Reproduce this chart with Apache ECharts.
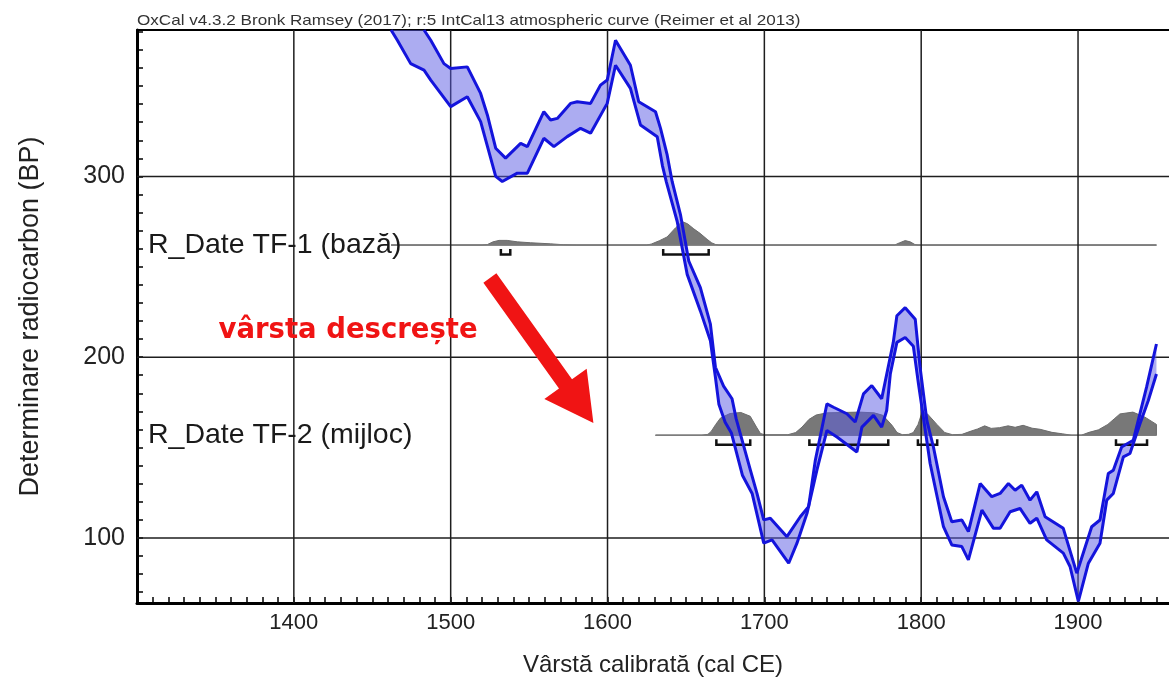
<!DOCTYPE html>
<html>
<head>
<meta charset="utf-8">
<script src="https://cdn.jsdelivr.net/npm/echarts@6/dist/echarts.min.js"></script>
<style>
  html, body { margin: 0; padding: 0; background: #fff; }
  #chart { width: 1169px; height: 688px; }
</style>
</head>
<body>
<div id="chart"></div>
<script>
// axis labels
const xLabels = [1400, 1500, 1600, 1700, 1800, 1900];
const yLabels = [100, 200, 300];
const xMin = 1300, xMax = 1958, yMin = 64, yMax = 381;

// IntCal13 band: upper edge (cal CE / BP)
const upperYears = [1483, 1487.3, 1495.7, 1500, 1510.6, 1519.1, 1523.4, 1528.7, 1535, 1544.6, 1548.9, 1559.4, 1563.7, 1568, 1576.4, 1580.7, 1589.2, 1595.5, 1599.8, 1605.1, 1614.6, 1619.9, 1630.6, 1633.8, 1638, 1641.2, 1646.5, 1651.8, 1659.2, 1665.6, 1668.8, 1674, 1679.4, 1682, 1691.1, 1695.3, 1699.6, 1703.8, 1714.4, 1722.9, 1728.2, 1732.5, 1739.9, 1744.1, 1752.6, 1757.9, 1763.2, 1768.5, 1774.8, 1782.2, 1784.5, 1789.8, 1796.2, 1799.2, 1803.6, 1807.8, 1814.2, 1819.5, 1825.9, 1830.1, 1837.6, 1845, 1850.3, 1855.6, 1859.9, 1864.1, 1869.4, 1873.7, 1879, 1890.6, 1899.2, 1908.7, 1914, 1919.3, 1922.5, 1927.8, 1935.2, 1943.7, 1950];
const upperBP = [381, 375.3, 362.4, 359.7, 360.6, 345.9, 334, 315.6, 310.1, 318.3, 316.5, 335.8, 331.2, 332.1, 340.4, 341.3, 340.4, 350.5, 353.3, 375.3, 361.5, 341.3, 335.8, 326.6, 312, 297.2, 278.9, 253.2, 238.5, 218.3, 194.4, 184, 177, 166, 137.5, 124.6, 110, 110.9, 100.7, 111.7, 117.3, 143, 174.2, 172.3, 168.7, 164.1, 179.7, 184.3, 177, 208.2, 222.9, 227.4, 221, 195, 165, 150.3, 122.8, 109, 109.9, 103.5, 130.1, 122.8, 124.6, 130.1, 126.4, 129.2, 120.9, 125.5, 111.7, 105.3, 80.5, 106.2, 109.9, 135.6, 137.5, 150.3, 154, 183.4, 207.3];

// IntCal13 band: lower edge
const lowerYears = [1462, 1466, 1474.5, 1483, 1487.3, 1500, 1510.6, 1519.1, 1528.7, 1532.9, 1542.5, 1548.9, 1559.4, 1565.8, 1574.3, 1582.8, 1589.2, 1599.8, 1605.1, 1614.6, 1621, 1631.7, 1635, 1637.5, 1644.4, 1650.8, 1659.2, 1665.6, 1668.8, 1671, 1675, 1679, 1686, 1692.2, 1699.6, 1704.9, 1715.5, 1720.8, 1727.2, 1733.5, 1739.9, 1746.3, 1759, 1762.2, 1769.6, 1774.8, 1778, 1780.3, 1784.5, 1789.8, 1795, 1798.3, 1805.7, 1814.2, 1819.5, 1825.9, 1830.1, 1838.7, 1846.1, 1850.3, 1856.7, 1863, 1869.4, 1873.7, 1880, 1890.6, 1894.9, 1900.2, 1906.6, 1914, 1918.3, 1922.5, 1928.9, 1933.1, 1939.5, 1944.8, 1950];
const lowerBP = [381, 375.3, 362.4, 358.8, 353.3, 338.6, 344.1, 330.3, 300, 297.2, 301.8, 301.8, 321.1, 316.5, 322, 326.6, 323.9, 340.4, 361.5, 348.7, 328.5, 322, 306, 297, 275.2, 245.8, 225.6, 209.1, 188.9, 174, 164, 158, 134.7, 124.6, 97.1, 98.9, 86, 97.1, 113.6, 137.5, 159.5, 155.8, 147.5, 161.3, 167.8, 161.3, 170.5, 190.7, 208.2, 210.9, 206, 185, 141.2, 106.2, 96.1, 95.2, 87.9, 115.4, 105.3, 105.3, 114.5, 116.3, 108.1, 110.9, 98.9, 91.6, 84.2, 64.9, 86, 97.1, 120.9, 124.6, 144.8, 146.7, 163.2, 176, 190.7];

// R_Date TF-1 (bază): probability profile (height above its baseline) and ranges
const tf1Base = 262;
const tf1Years = [1462, 1520, 1523.4, 1527, 1530.8, 1536, 1542.5, 1551, 1563.7, 1572, 1580, 1625, 1628, 1633, 1638, 1643.3, 1647.6, 1651, 1655, 1659, 1663.5, 1666.5, 1669, 1671, 1783, 1786, 1789.8, 1793, 1796, 1798, 1950];
const tf1Prob = [0, 0, 0.3, 1.8, 2.6, 2.6, 1.8, 1.3, 0.7, 0.2, 0, 0, 0.6, 2.4, 4.5, 9.5, 13, 11.8, 9, 6.5, 3.2, 1.2, 0.3, 0, 0, 1.2, 2.5, 1.8, 0.3, 0, 0];
const tf1Ranges = [[1532, 1538], [1635.5, 1664.5]];

// R_Date TF-2 (mijloc)
const tf2Base = 156.8;
const tf2Years = [1630.6, 1660, 1664, 1666, 1669, 1672, 1678, 1685, 1691, 1695, 1697.5, 1700, 1715, 1720, 1724, 1728.5, 1733, 1740, 1760.7, 1770, 1775.6, 1781.4, 1784.6, 1788, 1792, 1795, 1798, 1800.6, 1804, 1810, 1815, 1820, 1826, 1831.8, 1836, 1840.5, 1844.6, 1850, 1855.4, 1859.9, 1865, 1870.7, 1875.8, 1883.4, 1890, 1896, 1902, 1907, 1913, 1919, 1923, 1926.7, 1935, 1942.7, 1950];
const tf2Prob = [0, 0, 0.5, 2, 6, 9.5, 12, 12.6, 10.5, 4.5, 1, 0.3, 0.3, 1.5, 4.5, 8.8, 11.2, 12.4, 12.8, 12.4, 11, 5.5, 1.5, 0.3, 0.5, 1.5, 6, 12.8, 11.8, 6, 1.5, 0.3, 0.5, 2.3, 3.5, 5.2, 3.8, 4.2, 5.2, 4.4, 5.5, 3.9, 3.3, 1.6, 0.8, 0, 0, 1.6, 3, 6, 9, 11.8, 12.8, 10, 6];
const tf2Ranges = [[1669.4, 1691], [1728.7, 1779], [1797.9, 1810.2], [1924.2, 1944]];

const xTicks = [];
for (let v = xMin + 10; v <= 1950; v += 10) xTicks.push(v);
const yTicks = [];
for (let v = 70; v <= 380; v += 10) yTicks.push(v);

const chart = echarts.init(document.getElementById('chart'));

// grey probability profile drawn over its own baseline
function profileItem(years, prob, base) {
  return function (params, api) {
    const pts = years.map((y, i) => api.coord([y, base + prob[i]]));
    const a = api.coord([years[0], base]);
    const b = api.coord([years[years.length - 1], base]);
    return {
      type: 'group',
      children: [
        { type: 'polygon', shape: { points: [a].concat(pts, [b]) },
          style: { fill: '#787878', stroke: '#6c6c6c', lineWidth: 1 } },
        { type: 'line', shape: { x1: a[0], y1: a[1], x2: b[0], y2: b[1] },
          style: { stroke: '#7d7d7d', lineWidth: 1.5 } }
      ]
    };
  };
}

function bracketItem(ranges, base) {
  return function (params, api) {
    return {
      type: 'group',
      children: ranges.map(r => ({
        type: 'polyline',
        shape: { points: [
          api.coord([r[0], base - 2.2]), api.coord([r[0], base - 5.2]),
          api.coord([r[1], base - 5.2]), api.coord([r[1], base - 2.2])
        ] },
        style: { stroke: '#111', lineWidth: 2.5, fill: null }
      }))
    };
  };
}

const option = {
  animation: false,
  backgroundColor: '#fff',
  grid: { left: 137, right: 0, top: 30, bottom: 85 },
  xAxis: [
    {
      type: 'value', min: xMin, max: xMax, position: 'bottom',
      name: 'Vârstă calibrată (cal CE)', nameLocation: 'middle', nameGap: 50,
      nameTextStyle: { fontSize: 24, color: '#222', fontFamily: 'Liberation Sans' },
      axisLine: { show: true, lineStyle: { color: '#000', width: 3 } },
      axisTick: { show: true, inside: true, length: 6, customValues: xTicks, lineStyle: { color: '#000', width: 1.5 } },
      axisLabel: { customValues: xLabels, formatter: v => String(v), fontSize: 22, color: '#222', margin: 9, fontFamily: 'Liberation Sans' },
      splitLine: { show: false }
    },
    {
      type: 'value', min: xMin, max: xMax, position: 'top',
      axisLine: { show: true, lineStyle: { color: '#000', width: 2 } },
      axisTick: { show: false }, axisLabel: { show: false }, splitLine: { show: false }
    }
  ],
  yAxis: {
    type: 'value', min: yMin, max: yMax,
    name: 'Determinare radiocarbon (BP)', nameLocation: 'middle', nameGap: 93,
    nameTextStyle: { fontSize: 27, color: '#222', fontFamily: 'Liberation Sans', padding: [0, 0, 0, 0] },
    axisLine: { show: true, lineStyle: { color: '#000', width: 3 } },
    axisTick: { show: true, inside: true, length: 6, customValues: yTicks, lineStyle: { color: '#000', width: 1.5 } },
    axisLabel: { customValues: yLabels, formatter: v => String(v), fontSize: 25, color: '#222', margin: 12, fontFamily: 'Liberation Sans' },
    splitLine: { show: false }
  },
  series: [
    {
      type: 'custom', name: 'TF-1', z: 1, silent: true, data: [[xMin, yMin]],
      renderItem: profileItem(tf1Years, tf1Prob, tf1Base)
    },
    {
      type: 'custom', name: 'TF-2', z: 1, silent: true, data: [[xMin, yMin]],
      renderItem: profileItem(tf2Years, tf2Prob, tf2Base)
    },
    {
      type: 'custom', name: 'grid', z: 2, silent: true, data: [[xMin, yMin]],
      renderItem: function (params, api) {
        const lines = [];
        xLabels.forEach(v => {
          const a = api.coord([v, yMin]), b = api.coord([v, yMax]);
          lines.push({ type: 'line', shape: { x1: a[0], y1: a[1], x2: b[0], y2: b[1] }, style: { stroke: '#1e1e1e', lineWidth: 1.5 } });
        });
        yLabels.forEach(v => {
          const a = api.coord([xMin, v]), b = api.coord([xMax, v]);
          lines.push({ type: 'line', shape: { x1: a[0], y1: a[1], x2: b[0], y2: b[1] }, style: { stroke: '#1e1e1e', lineWidth: 1.5 } });
        });
        return { type: 'group', children: lines };
      }
    },
    {
      type: 'custom', name: 'band', z: 3, silent: true, data: [[xMin, yMin]],
      renderItem: function (params, api) {
        const up = upperYears.map((y, i) => api.coord([y, upperBP[i]]));
        const lo = lowerYears.map((y, i) => api.coord([y, lowerBP[i]])).reverse();
        return { type: 'polygon', shape: { points: up.concat(lo) }, style: { fill: 'rgba(90,90,228,0.5)' } };
      }
    },
    {
      type: 'line', name: 'upper', z: 4, showSymbol: false, silent: true,
      data: upperYears.map((y, i) => [y, upperBP[i]]),
      lineStyle: { color: '#1414dc', width: 3 }
    },
    {
      type: 'line', name: 'lower', z: 4, showSymbol: false, silent: true,
      data: lowerYears.map((y, i) => [y, lowerBP[i]]),
      lineStyle: { color: '#1414dc', width: 3 }
    },
    {
      type: 'custom', name: 'TF-1 ranges', z: 4, silent: true, data: [[xMin, yMin]],
      renderItem: bracketItem(tf1Ranges, tf1Base)
    },
    {
      type: 'custom', name: 'TF-2 ranges', z: 4, silent: true, data: [[xMin, yMin]],
      renderItem: bracketItem(tf2Ranges, tf2Base)
    }
  ]
};
chart.setOption(option);

// labels and arrow placed in data space
const px = (x, y) => chart.convertToPixel({ gridIndex: 0 }, [x, y]);
const lab1 = px(1307, tf1Base), lab2 = px(1307, tf2Base);
const note = px(1352, 214.5);
const tail = px(1525, 243.8), tip = px(1591, 163.6);
const dx = tip[0] - tail[0], dy = tip[1] - tail[1];
const len = Math.sqrt(dx * dx + dy * dy);
const ux = dx / len, uy = dy / len, nx = -uy, ny = ux;
const headLen = 48, headHalf = 26, shaftHalf = 8;
const hb = [tip[0] - ux * headLen, tip[1] - uy * headLen];
const arrowPts = [
  [tail[0] + nx * shaftHalf, tail[1] + ny * shaftHalf],
  [hb[0] + nx * shaftHalf, hb[1] + ny * shaftHalf],
  [hb[0] + nx * headHalf, hb[1] + ny * headHalf],
  tip,
  [hb[0] - nx * headHalf, hb[1] - ny * headHalf],
  [hb[0] - nx * shaftHalf, hb[1] - ny * shaftHalf],
  [tail[0] - nx * shaftHalf, tail[1] - ny * shaftHalf]
];

chart.setOption({
  graphic: [
    { type: 'text', x: 137, y: 21, scaleX: 1.14, z: 10,
      style: { text: 'OxCal v4.3.2 Bronk Ramsey (2017); r:5 IntCal13 atmospheric curve (Reimer et al 2013)', font: '15px "Liberation Sans"', fill: '#333', align: 'left', verticalAlign: 'middle' } },
    { type: 'text', x: lab1[0], y: lab1[1], z: 10,
      style: { text: 'R_Date TF-1 (bază)', font: '28.5px "Liberation Sans"', fill: '#1a1a1a', align: 'left', verticalAlign: 'middle' } },
    { type: 'text', x: lab2[0], y: lab2[1], z: 10,
      style: { text: 'R_Date TF-2 (mijloc)', font: '28.5px "Liberation Sans"', fill: '#1a1a1a', align: 'left', verticalAlign: 'middle' } },
    { type: 'text', x: note[0], y: note[1], z: 10,
      style: { text: 'vârsta descrește', font: 'bold 27.5px "DejaVu Sans"', fill: '#f01414', align: 'left', verticalAlign: 'middle' } },
    { type: 'polygon', z: 10, shape: { points: arrowPts }, style: { fill: '#f01414' } }
  ]
});
</script>
</body>
</html>
